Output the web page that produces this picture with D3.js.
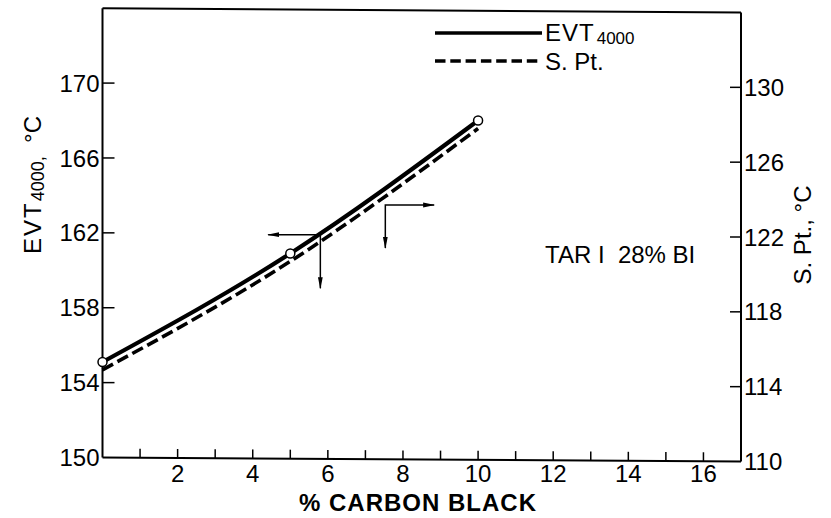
<!DOCTYPE html>
<html>
<head>
<meta charset="utf-8">
<script src="https://cdn.jsdelivr.net/npm/d3@7/dist/d3.min.js"></script>
<style>
  html, body { margin: 0; padding: 0; background: #fff; }
  svg { display: block; }
  text { font-family: "Liberation Sans", Arial, sans-serif; fill: #000; }
</style>
</head>
<body>
<svg id="chart" width="831" height="518"></svg>
<script>
// Measured points: % carbon black vs EVT4000 and softening point
const carbonBlack = [0, 5, 10];
const evt4000 = [155.1, 160.9, 168.0];
const softeningPoint = [114.9, 120.7, 127.8];

// Axis ticks and labels
const xMinorTicks = d3.range(1, 17);
const xTickLabels = [2, 4, 6, 8, 10, 12, 14, 16];
const leftTicks = [150, 154, 158, 162, 166, 170];
const rightTicks = [110, 114, 118, 122, 126, 130];

// Axis-direction arrows: [x, value] points, tip -> corner -> tip
const evtArrow = [[4.41, 161.9], [5.80, 161.9], [5.80, 159.04]];
const spArrow = [[7.53, 121.41], [7.53, 123.71], [8.83, 123.71]];

const svg = d3.select("#chart");

const x = d3.scaleLinear().domain([0, 17]).range([102.5, 741]);
const yL = d3.scaleLinear().domain([150, 174]).range([457.5, 8.2]);
const yR = d3.scaleLinear().domain([110, 134]).range([461.5, 12.5]);

const x0 = x(0), x1 = x(17);

// Frame: left axis, right axis, top and bottom edges
const frame = svg.append("g").attr("fill", "none").attr("stroke", "#000").attr("stroke-width", 2);
frame.append("line").attr("x1", x0).attr("x2", x0).attr("y1", yL(174)).attr("y2", yL(150));
frame.append("line").attr("x1", x1).attr("x2", x1).attr("y1", yR(134)).attr("y2", yR(110));
frame.append("line").attr("x1", x0).attr("x2", x1).attr("y1", yL(174)).attr("y2", yR(134));
frame.append("line").attr("x1", x0).attr("x2", x1).attr("y1", yL(150)).attr("y2", yR(110));

// Bottom axis baseline follows the slight tilt between the two frames
const yBottom = d3.scaleLinear().domain([0, 17]).range([yL(150), yR(110)]);

// X ticks pointing inward
svg.append("g").attr("stroke", "#000").attr("stroke-width", 1.5)
  .selectAll("line").data(xMinorTicks).join("line")
  .attr("x1", d => x(d)).attr("x2", d => x(d))
  .attr("y1", d => yBottom(d)).attr("y2", d => yBottom(d) - 9);

svg.append("g").selectAll("text").data(xTickLabels).join("text")
  .attr("x", d => x(d)).attr("y", 482)
  .attr("text-anchor", "middle").attr("font-size", 24)
  .text(d => d);

// Left axis ticks and labels
svg.append("g").attr("stroke", "#000").attr("stroke-width", 1.5)
  .selectAll("line").data(leftTicks.slice(1)).join("line")
  .attr("x1", x0).attr("x2", x0 + 12)
  .attr("y1", d => yL(d)).attr("y2", d => yL(d));

svg.append("g").selectAll("text").data(leftTicks).join("text")
  .attr("x", x0 - 3).attr("y", d => yL(d)).attr("dy", "0.36em")
  .attr("text-anchor", "end").attr("font-size", 24)
  .text(d => d);

// Right axis ticks and labels
svg.append("g").attr("stroke", "#000").attr("stroke-width", 1.5)
  .selectAll("line").data(rightTicks.slice(1)).join("line")
  .attr("x1", x1 - 11).attr("x2", x1)
  .attr("y1", d => yR(d)).attr("y2", d => yR(d));

svg.append("g").selectAll("text").data(rightTicks).join("text")
  .attr("x", x1 + 3).attr("y", d => yR(d)).attr("dy", "0.36em")
  .attr("text-anchor", "start").attr("font-size", 24)
  .text(d => d);

// Axis titles
svg.append("text")
  .attr("x", 418).attr("y", 511)
  .attr("text-anchor", "middle").attr("font-size", 24).attr("font-weight", "bold")
  .attr("letter-spacing", 1)
  .text("% CARBON BLACK");

const leftTitle = svg.append("text")
  .attr("transform", "translate(41,185) rotate(-90)")
  .attr("text-anchor", "middle").attr("font-size", 24)
  .style("white-space", "pre");
leftTitle.append("tspan").attr("letter-spacing", 2).text("EVT");
leftTitle.append("tspan").attr("font-size", 18).attr("dy", 3).text("4000,");
leftTitle.append("tspan").attr("dy", -3).text("  °C");

svg.append("text")
  .attr("transform", "translate(811,235) rotate(-90)")
  .attr("text-anchor", "middle").attr("font-size", 24)
  .text("S. Pt., °C");

// Annotation
svg.append("text")
  .attr("x", 545).attr("y", 263).attr("font-size", 24)
  .style("white-space", "pre")
  .text("TAR I  28% BI");

// Curves
const pts = (vals) => carbonBlack.map((c, i) => [c, vals[i]]);
const lineL = d3.line().x(d => x(d[0])).y(d => yL(d[1])).curve(d3.curveNatural);
const lineR = d3.line().x(d => x(d[0])).y(d => yR(d[1])).curve(d3.curveNatural);

svg.append("path").attr("d", lineR(pts(softeningPoint)))
  .attr("fill", "none").attr("stroke", "#000").attr("stroke-width", 3.6)
  .attr("stroke-dasharray", "12,5");

svg.append("path").attr("d", lineL(pts(evt4000)))
  .attr("fill", "none").attr("stroke", "#000").attr("stroke-width", 4.2);

svg.append("g").selectAll("circle").data(pts(evt4000)).join("circle")
  .attr("cx", d => x(d[0])).attr("cy", d => yL(d[1])).attr("r", 4.5)
  .attr("fill", "#fff").attr("stroke", "#000").attr("stroke-width", 1.5);

// Arrowheads
svg.append("defs").append("marker")
  .attr("id", "head").attr("viewBox", "0 0 12 6")
  .attr("refX", 11).attr("refY", 3)
  .attr("markerWidth", 12).attr("markerHeight", 6)
  .attr("markerUnits", "userSpaceOnUse")
  .attr("orient", "auto-start-reverse")
  .append("path").attr("d", "M0,0.6L12,3L0,5.4Z").attr("fill", "#000");

const arrowL = d3.line().x(d => x(d[0])).y(d => yL(d[1]));
const arrowR = d3.line().x(d => x(d[0])).y(d => yR(d[1]));

svg.append("path").attr("d", arrowL(evtArrow))
  .attr("fill", "none").attr("stroke", "#000").attr("stroke-width", 1.5)
  .attr("marker-start", "url(#head)").attr("marker-end", "url(#head)");

svg.append("path").attr("d", arrowR(spArrow))
  .attr("fill", "none").attr("stroke", "#000").attr("stroke-width", 1.5)
  .attr("marker-start", "url(#head)").attr("marker-end", "url(#head)");

// Legend
const legend = svg.append("g");
legend.append("line").attr("x1", 435).attr("x2", 542).attr("y1", 33).attr("y2", 33)
  .attr("stroke", "#000").attr("stroke-width", 3.5);
legend.append("line").attr("x1", 435).attr("x2", 542).attr("y1", 61).attr("y2", 61)
  .attr("stroke", "#000").attr("stroke-width", 3.5).attr("stroke-dasharray", "10.5,4.8");
const evtMain = legend.append("text").attr("x", 545).attr("y", 41).attr("font-size", 24)
  .attr("letter-spacing", 1).text("EVT");
const evtWidth = evtMain.node().getComputedTextLength();
legend.append("text").attr("x", 545 + evtWidth + 2).attr("y", 43.5).attr("font-size", 17)
  .text("4000");
legend.append("text").attr("x", 545).attr("y", 70).attr("font-size", 24).text("S. Pt.");
</script>
</body>
</html>
